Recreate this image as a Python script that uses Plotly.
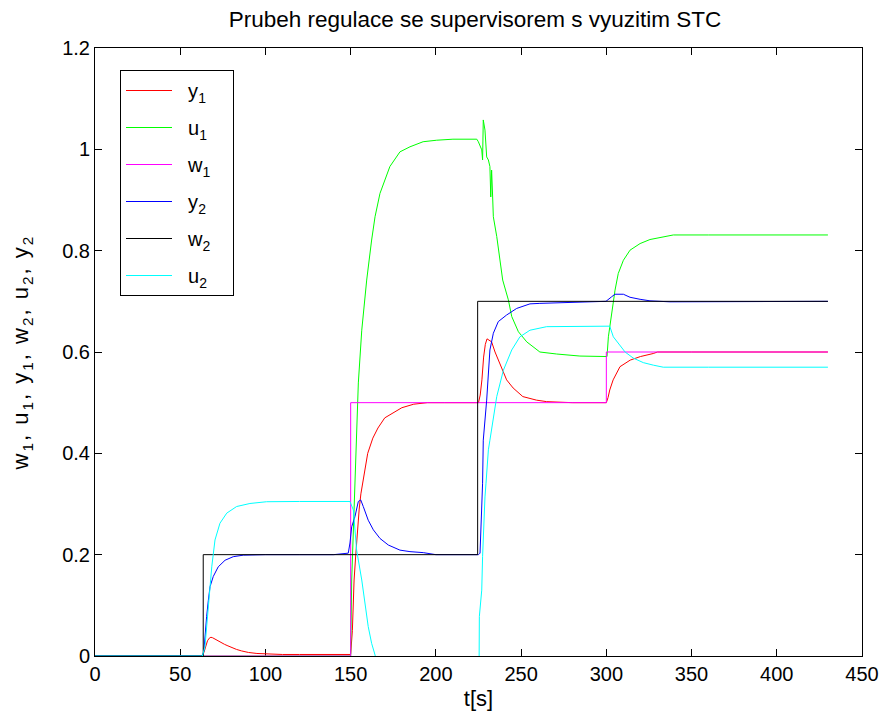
import plotly.graph_objects as go

# ---- data ----
t_y1 = [0, 63, 64, 65, 66, 67, 68, 69, 70, 72, 74, 76, 78, 80, 83, 86, 90, 95, 100, 110, 120, 130, 140, 150,
        151, 152, 153, 154, 155, 156, 158, 160, 163, 166, 170, 175, 180, 187, 195, 205, 215, 225,
        226, 227, 228, 229, 230, 232.7, 234.7, 237.6, 241.5, 245.3, 251, 259, 265, 280, 300,
        301, 302, 304, 308, 314, 320, 327.5, 330, 350, 380, 410, 430]
y1 = [0, 0, 0.008, 0.02, 0.03, 0.035, 0.037, 0.036, 0.034, 0.031, 0.027, 0.023, 0.020, 0.017, 0.013, 0.010, 0.007, 0.005, 0.004, 0.003, 0.003, 0.003, 0.003, 0.003,
      0.05, 0.15, 0.20, 0.25, 0.29, 0.32, 0.36, 0.40, 0.43, 0.45, 0.47, 0.48, 0.49, 0.497, 0.5, 0.5, 0.5, 0.5,
      0.515, 0.545, 0.59, 0.615, 0.626, 0.62, 0.60, 0.578, 0.545, 0.529, 0.512, 0.505, 0.502, 0.5, 0.5,
      0.51, 0.525, 0.545, 0.571, 0.584, 0.591, 0.597, 0.6, 0.6, 0.6, 0.6, 0.6]

t_u1 = [0, 150, 150.6, 151.5, 152.5, 153.5, 154.5, 156.5, 159.4, 162.3, 164.3, 167.2, 170.1, 173, 178.9, 184.8, 192.5, 200.5, 210, 224,
        224.9, 226.9, 227.4, 227.8, 228.8, 229.8, 230.8, 231.7, 232.2, 232.7, 233.3, 233.7, 235.7, 237.6, 239.2, 242.5, 244.5, 248.4, 253.3, 261, 270.9, 284.5, 299.8,
        300.4, 301.2, 303.1, 305.1, 307, 310, 313.9, 319.8, 325.6, 331.5, 339.3, 360, 400, 430]
u1 = [0, 0, 0.15, 0.25, 0.35, 0.4525, 0.539, 0.643, 0.742, 0.821, 0.867, 0.913, 0.939, 0.966, 0.995, 1.005, 1.015, 1.018, 1.02, 1.02,
      1.015, 0.999, 0.979, 1.058, 1.038, 0.985, 0.979, 0.966, 0.906, 0.959, 0.906, 0.867, 0.828, 0.782, 0.742, 0.703, 0.67, 0.64, 0.62, 0.60, 0.596, 0.592, 0.592,
      0.591, 0.63, 0.676, 0.722, 0.755, 0.781, 0.801, 0.814, 0.822, 0.826, 0.831, 0.831, 0.831, 0.831]

t_w1 = [0, 150, 150, 300, 300, 430]
w1 = [0, 0, 0.5, 0.5, 0.6, 0.6]

t_y2 = [0, 63, 63.9, 64.5, 65.5, 66.5, 67.5, 69.4, 72.3, 76.3, 81.1, 87, 100, 120, 140, 148.6, 149.6, 150.6, 152.5, 154.5, 155.9, 157.4, 160.3, 163.3, 167.2, 172.1, 178.9, 184.8, 192.6, 200, 225,
        225.9, 226.4, 226.9, 227.4, 227.8, 229.8, 231.7, 233.7, 236.6, 241.5, 247.4, 255.2, 261, 280, 299.8,
        303.1, 305.1, 310, 313.9, 319.8, 325.6, 337.3, 380, 430]
y2 = [0, 0, 0.01, 0.045, 0.078, 0.11, 0.137, 0.157, 0.176, 0.189, 0.196, 0.199, 0.2, 0.2, 0.2, 0.203, 0.223, 0.255, 0.275, 0.305, 0.308, 0.295, 0.268, 0.249, 0.232, 0.219, 0.209, 0.206, 0.204, 0.2, 0.2,
      0.203, 0.249, 0.288, 0.341, 0.426, 0.505, 0.604, 0.637, 0.66, 0.673, 0.686, 0.695, 0.696, 0.698, 0.7,
      0.709, 0.714, 0.714, 0.708, 0.704, 0.701, 0.699, 0.7, 0.7]

t_w2 = [0, 63.5, 63.5, 224.5, 224.5, 430]
w2 = [0, 0, 0.2, 0.2, 0.7, 0.7]

t_u2 = [0, 63, 64.5, 66.5, 68.5, 70.4, 73.3, 77.3, 83.1, 90.9, 100.7, 120, 140, 149.6, 151.6, 152.5, 153.5, 156.5, 158.4, 160.3, 162.3, 164.3, 166, 225.3,
        225.5, 226.9, 227.4, 228.2, 228.8, 229.4, 230.8, 231.7, 235.7, 239.6, 244.5, 249.3, 255.2, 265, 285, 302,
        304.1, 307, 311, 315.8, 321.7, 327.6, 333.4, 360, 400, 430]
u2 = [0, 0, 0.018, 0.097, 0.176, 0.229, 0.262, 0.282, 0.295, 0.301, 0.3045, 0.305, 0.305, 0.305, 0.288, 0.249, 0.209, 0.15, 0.104, 0.058, 0.025, 0.002, -0.03, -0.05,
      0.078, 0.13, 0.196, 0.275, 0.314, 0.341, 0.407, 0.426, 0.512, 0.564, 0.604, 0.63, 0.643, 0.65, 0.651, 0.651,
      0.63, 0.617, 0.60, 0.588, 0.579, 0.574, 0.57, 0.57, 0.57, 0.57]

x_ticks = [0, 50, 100, 150, 200, 250, 300, 350, 400, 450]
y_ticks = [0, 0.2, 0.4, 0.6, 0.8, 1.0, 1.2]
y_tick_labels = ["0", "0.2", "0.4", "0.6", "0.8", "1", "1.2"]

series_names = ["y<sub>1</sub>", "u<sub>1</sub>", "w<sub>1</sub>", "y<sub>2</sub>", "w<sub>2</sub>", "u<sub>2</sub>"]
series_colors = ["#ff0000", "#00ff00", "#ff00ff", "#0000ff", "#000000", "#00ffff"]
series_t = [t_y1, t_u1, t_w1, t_y2, t_w2, t_u2]
series_v = [y1, u1, w1, y2, w2, u2]

FONT = "Liberation Sans, Arial, sans-serif"
NB = "\u00a0"

fig = go.Figure()
for i in range(len(series_names)):
    fig.add_trace(go.Scatter(x=series_t[i], y=series_v[i], mode="lines",
                             name=NB * 2 + series_names[i] + NB * 3,
                             legendgroup="g%d" % i,
                             line=dict(color=series_colors[i], width=1)))

axis_common = dict(showline=True, linecolor="black", linewidth=1, mirror="ticks",
                   ticks="inside", ticklen=7, tickcolor="black", tickwidth=1,
                   showgrid=False, zeroline=False, layer="below traces",
                   tickfont=dict(family=FONT, size=20, color="black"))

ylabel = ('<span style="letter-spacing:2px">w<sub>1</sub>, u<sub>1</sub>, y<sub>1</sub>, '
          'w<sub>2</sub>, u<sub>2</sub>, y<sub>2</sub></span>')

fig.update_layout(
    width=890, height=721,
    margin=dict(l=87, r=36, t=40, b=73),
    paper_bgcolor="white", plot_bgcolor="white",
    font=dict(family=FONT, color="black"),
    title=dict(text="Prubeh regulace se supervisorem s vyuzitim STC",
               x=0.5247, xanchor="center", y=0.984, yanchor="middle",
               font=dict(family=FONT, size=22.5, color="black")),
    xaxis=dict(range=[0, 450], tickvals=x_ticks,
               title=dict(text="t[s]", font=dict(family=FONT, size=22), standoff=6),
               **axis_common),
    yaxis=dict(range=[0, 1.2], tickvals=y_ticks, ticktext=y_tick_labels,
               title=dict(text=ylabel, font=dict(family=FONT, size=22), standoff=28),
               **axis_common),
    legend=dict(x=0.0326, y=0.9638, xanchor="left", yanchor="top",
                bgcolor="white", bordercolor="black", borderwidth=1,
                font=dict(family=FONT, size=20, color="black"),
                itemwidth=46, tracegroupgap=8),
    showlegend=True,
)

fig.write_html("out.html")
